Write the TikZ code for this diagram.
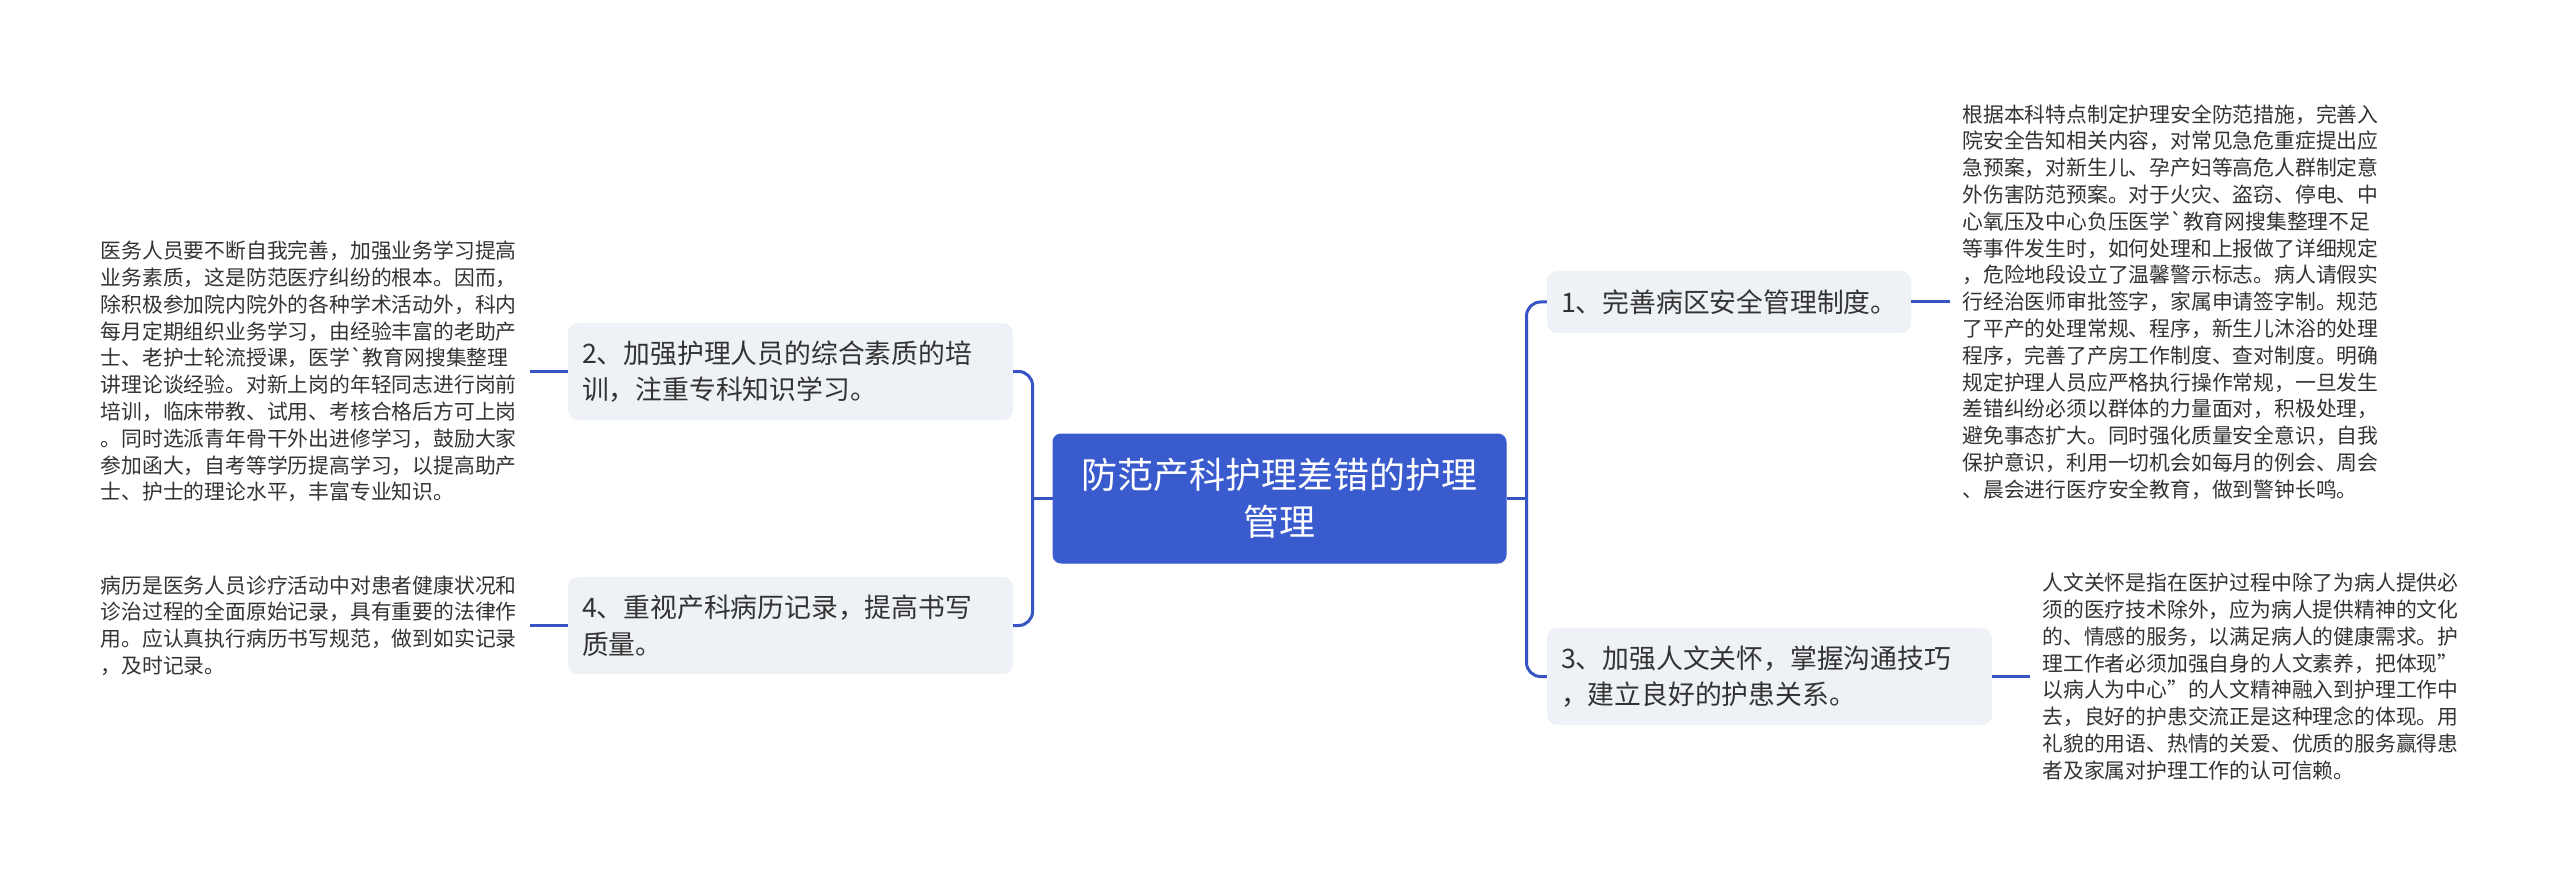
\documentclass[tikz,border=0pt]{standalone}
\usepackage{fontspec}
\usepackage{tikz}
\usetikzlibrary{
  positioning,
  calc,
}
\newfontfamily\cjk{Noto Sans CJK SC}
\definecolor{rootBlue}{HTML}{3A5BCE}
\definecolor{linkBlue}{HTML}{3654C4}
\definecolor{topicBg}{HTML}{EEF1F5}
\definecolor{inkGray}{HTML}{333333}
\tikzset{
  rootbox/.style={
    rectangle, rounded corners=8pt, draw=rootBlue, line width=1pt,
    fill=rootBlue, text=white, inner sep=0pt, align=center,
    minimum width=453pt, minimum height=129pt,
    font=\cjk\fontsize{36}{47}\selectfont,
  },
  topicbox/.style={
    rectangle, rounded corners=10pt, draw=none, fill=topicBg,
    text=inkGray, inner xsep=14pt, inner ysep=0pt, align=left,
    text width=417pt, minimum height=97pt,
    font=\cjk\fontsize{26.8}{36.7}\selectfont,
  },
  topicboxShort/.style={
    topicbox, text width=336pt, minimum height=62pt,
  },
  notetext/.style={
    rectangle, draw=none, text=inkGray, inner xsep=12pt, inner ysep=0pt,
    align=left, text width=417pt,
    font=\cjk\fontsize{20.8}{26.8}\selectfont,
  },
  linkLine/.style={
    line width=3pt, draw=linkBlue, rounded corners=14pt,
  },
}
\begin{document}
\begin{tikzpicture}[x=1pt, y=-1pt, node distance=38pt]

\useasboundingbox[fill=white] (0,0) rectangle (2560,885);

\node[rootbox] (root) at (1279.5,498.5) {防范产科护理差错的护理\\管理};

\node[topicboxShort] (n1) at (1729,302) {1、完善病区安全管理制度。};
\node[topicbox] (n3) at (1769.5,676.5) {3、加强人文关怀，掌握沟通技巧\\，建立良好的护患关系。};
\node[topicbox] (n2) at (790.5,371.5) {2、加强护理人员的综合素质的培\\训，注重专科知识学习。};
\node[topicbox] (n4) at (790.5,625.5) {4、重视产科病历记录，提高书写\\质量。};

\node[notetext, right=39pt of n1] (t1) {%
根据本科特点制定护理安全防范措施，完善入\\
院安全告知相关内容，对常见急危重症提出应\\
急预案，对新生儿、孕产妇等高危人群制定意\\
外伤害防范预案。对于火灾、盗窃、停电、中\\
心氧压及中心负压医学`教育网搜集整理不足\\
等事件发生时，如何处理和上报做了详细规定\\
，危险地段设立了温馨警示标志。病人请假实\\
行经治医师审批签字，家属申请签字制。规范\\
了平产的处理常规、程序，新生儿沐浴的处理\\
程序，完善了产房工作制度、查对制度。明确\\
规定护理人员应严格执行操作常规，一旦发生\\
差错纠纷必须以群体的力量面对，积极处理，\\
避免事态扩大。同时强化质量安全意识，自我\\
保护意识，利用一切机会如每月的例会、周会\\
、晨会进行医疗安全教育，做到警钟长鸣。%
};

\node[notetext, right=of n3] (t3) {%
人文关怀是指在医护过程中除了为病人提供必\\
须的医疗技术除外，应为病人提供精神的文化\\
的、情感的服务，以满足病人的健康需求。护\\
理工作者必须加强自身的人文素养，把体现”\\
以病人为中心”的人文精神融入到护理工作中\\
去，良好的护患交流正是这种理念的体现。用\\
礼貌的用语、热情的关爱、优质的服务赢得患\\
者及家属对护理工作的认可信赖。%
};

\node[notetext, left=of n2] (t2) {%
医务人员要不断自我完善，加强业务学习提高\\
业务素质，这是防范医疗纠纷的根本。因而，\\
除积极参加院内院外的各种学术活动外，科内\\
每月定期组织业务学习，由经验丰富的老助产\\
士、老护士轮流授课，医学`教育网搜集整理\\
讲理论谈经验。对新上岗的年轻同志进行岗前\\
培训，临床带教、试用、考核合格后方可上岗\\
。同时选派青年骨干外出进修学习，鼓励大家\\
参加函大，自考等学历提高学习，以提高助产\\
士、护士的理论水平，丰富专业知识。%
};

\node[notetext, left=of n4] (t4) {%
病历是医务人员诊疗活动中对患者健康状况和\\
诊治过程的全面原始记录，具有重要的法律作\\
用。应认真执行病历书写规范，做到如实记录\\
，及时记录。%
};

% branch junctions
\coordinate[left=20pt of root.west] (lj);
\coordinate[right=20pt of root.east] (rj);

\draw[linkLine] (root.west) -- (lj);
\draw[linkLine] (n2.east) -| (lj) |- (n4.east);
\draw[linkLine] (root.east) -- (rj);
\draw[linkLine] (n1.west) -| (rj) |- (n3.west);

\draw[linkLine] (n1.east) -- (t1.west);
\draw[linkLine] (n3.east) -- (t3.west);
\draw[linkLine] (n2.west) -- (t2.east);
\draw[linkLine] (n4.west) -- (t4.east);

\end{tikzpicture}
\end{document}
